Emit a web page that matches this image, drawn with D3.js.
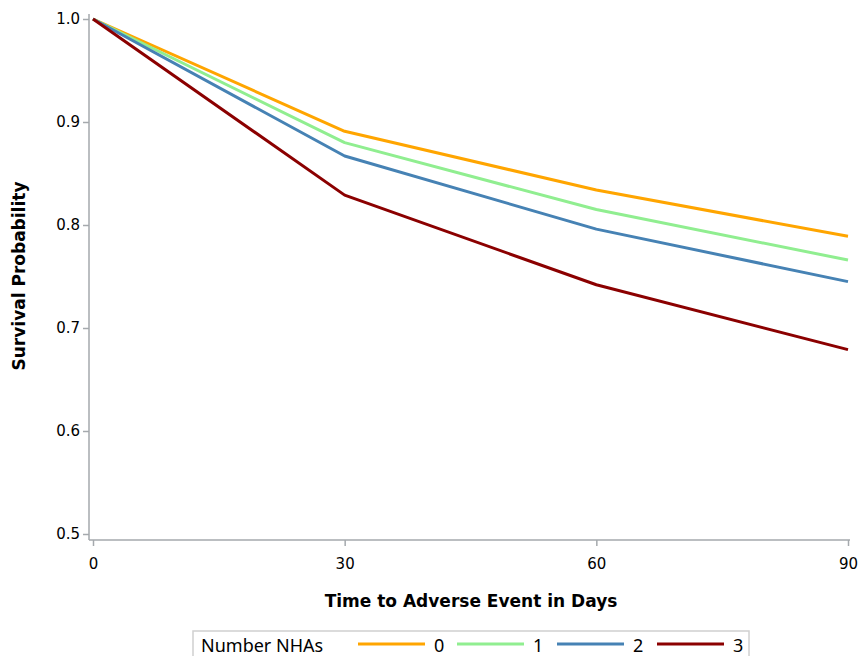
<!DOCTYPE html>
<html>
<head>
<meta charset="utf-8">
<script src="https://cdn.jsdelivr.net/npm/d3@7"></script>
<style>
  body { margin: 0; background: #fff; }
  svg { display: block; font-family: "DejaVu Sans", sans-serif; }
</style>
</head>
<body>
<svg id="chart" width="858" height="656"></svg>
<script>
// survival curves by number of NHAs
var days = [0, 30, 60, 90];
var groups = ['0', '1', '2', '3'];
var surv0 = [1.0, 0.891, 0.834, 0.789];
var surv1 = [1.0, 0.880, 0.815, 0.766];
var surv2 = [1.0, 0.867, 0.796, 0.745];
var surv3 = [1.0, 0.829, 0.742, 0.679];
var yTicks = [0.5, 0.6, 0.7, 0.8, 0.9, 1.0];
var colors = ['#FFA500', '#90EE90', '#4682B4', '#8B0000'];

var series = [surv0, surv1, surv2, surv3].map(function(v, i) {
  return { name: groups[i], color: colors[i], values: v.map(function(s, j) { return { t: days[j], s: s }; }) };
});

var svg = d3.select('#chart');
var axisColor = '#a5a9ad';

var x = d3.scaleLinear().domain([0, 90]).range([93, 848]);
var y = d3.scaleLinear().domain([0.5, 1.0]).range([534, 19]);

// y axis
var yAxis = svg.append('g').attr('transform', 'translate(89,0)')
  .call(d3.axisLeft(y).tickValues(yTicks).tickFormat(d3.format('.1f')).tickSize(6).tickSizeOuter(0))
  .attr('font-family', '"DejaVu Sans", sans-serif').attr('font-size', 15);
yAxis.select('.domain').attr('d', 'M0,14V540').attr('stroke', axisColor).attr('stroke-width', 1.5);
yAxis.selectAll('.tick line').attr('stroke', axisColor).attr('stroke-width', 1.5);
yAxis.selectAll('.tick text').attr('fill', '#000').attr('x', -9);

// x axis
var xAxis = svg.append('g').attr('transform', 'translate(0,540)')
  .call(d3.axisBottom(x).tickValues(days).tickSize(6).tickSizeOuter(0))
  .attr('font-family', '"DejaVu Sans", sans-serif').attr('font-size', 15);
xAxis.select('.domain').attr('d', 'M89,0H850').attr('stroke', axisColor).attr('stroke-width', 1.5);
xAxis.selectAll('.tick line').attr('stroke', axisColor).attr('stroke-width', 1.5);
xAxis.selectAll('.tick text').attr('fill', '#000').attr('y', 18);

// axis titles
svg.append('text')
  .attr('x', 471).attr('y', 607)
  .attr('text-anchor', 'middle')
  .attr('font-size', 17).attr('font-weight', 'bold')
  .text('Time to Adverse Event in Days');

svg.append('text')
  .attr('transform', 'translate(25,276) rotate(-90)')
  .attr('text-anchor', 'middle')
  .attr('font-size', 17).attr('font-weight', 'bold')
  .text('Survival Probability');

// curves
var line = d3.line().x(function(d) { return x(d.t); }).y(function(d) { return y(d.s); });
svg.selectAll('path.curve').data(series).enter()
  .append('path').attr('class', 'curve')
  .attr('d', function(d) { return line(d.values); })
  .attr('fill', 'none')
  .attr('stroke', function(d) { return d.color; })
  .attr('stroke-width', 3)
  .attr('stroke-linejoin', 'round');

// legend
var leg = svg.append('g');
leg.append('rect')
  .attr('x', 193).attr('y', 631).attr('width', 556).attr('height', 40)
  .attr('fill', '#fff').attr('stroke', '#d0d0d0').attr('stroke-width', 1.5);
leg.append('text')
  .attr('x', 201).attr('y', 652)
  .attr('font-size', 18).attr('font-family', 'Noto Sans, sans-serif')
  .text('Number NHAs');
var legStart = [358, 457, 557, 657];
var item = leg.selectAll('g.item').data(series).enter()
  .append('g').attr('class', 'item')
  .attr('transform', function(d, i) { return 'translate(' + legStart[i] + ',644)'; });
item.append('line')
  .attr('x1', 0).attr('x2', 67).attr('y1', 0).attr('y2', 0)
  .attr('stroke', function(d) { return d.color; }).attr('stroke-width', 3);
item.append('text')
  .attr('x', 76).attr('y', 8)
  .attr('font-size', 18).attr('font-family', 'Noto Sans, sans-serif')
  .text(function(d) { return d.name; });
</script>
</body>
</html>
